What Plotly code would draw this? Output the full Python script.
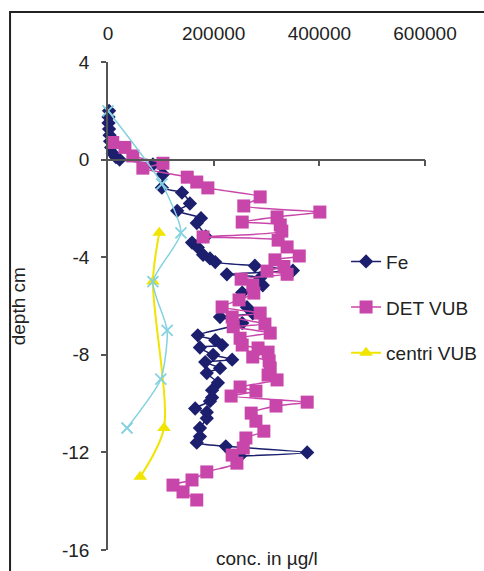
import plotly.graph_objects as go

# ---------------- data ----------------
fe_depth = [2.0, 1.75, 1.5, 1.25, 1.0, 0.75, 0.5, 0.25, 0.1, 0.0, -0.2, -0.6, -1.15, -1.35, -1.8,
            -2.1, -2.4, -2.6, -3.15, -3.4, -3.6, -3.9, -4.05, -4.2, -4.35, -4.55, -4.7, -4.85,
            -5.15, -5.45, -6.05, -6.3, -6.45, -6.7, -7.2, -7.4, -7.6, -7.7, -8.0, -8.2, -8.3,
            -8.55, -8.75, -9.15, -9.45, -9.75, -9.9, -10.2, -10.35, -10.6, -11.0, -11.35,
            -11.6, -11.75, -12.0, -12.15]
fe_conc = [2000, 1000, 1000, 2000, 3000, 4000, 6000, 9000, 15000, 22000, 85000, 104000, 102000,
           140000, 155000, 131000, 176000, 168000, 185000, 159000, 170000, 180000, 193000,
           203000, 278000, 350000, 225000, 288000, 293000, 254000, 263000, 274000, 212000,
           254000, 170000, 203000, 216000, 174000, 199000, 235000, 184000, 212000, 187000,
           208000, 197000, 197000, 193000, 165000, 187000, 187000, 174000, 174000, 168000,
           223000, 377000, 250000]

det_depth = [0.7, 0.5, 0.15, -0.15, -0.35, -0.72, -0.92, -1.16, -1.53, -1.9, -2.15, -2.35,
             -2.56, -2.68, -2.93, -3.17, -3.3, -3.58, -3.95, -4.11, -4.38, -4.57, -4.7, -4.9,
             -5.14, -5.47, -5.75, -6.04, -6.29, -6.45, -6.74, -6.85, -7.11, -7.32, -7.6,
             -7.72, -7.89, -8.09, -8.25, -8.54, -8.83, -9.03, -9.32, -9.49, -9.69, -9.94,
             -10.1, -10.39, -10.72, -11.13, -11.41, -11.82, -12.11, -12.44, -12.8, -13.13,
             -13.34, -13.62, -13.95]
det_conc = [9000, 32000, 47000, 104000, 66000, 150000, 168000, 189000, 288000, 257000, 401000,
            320000, 254000, 326000, 329000, 180000, 322000, 339000, 362000, 316000, 333000,
            301000, 339000, 252000, 274000, 276000, 248000, 216000, 288000, 235000, 297000,
            237000, 307000, 250000, 254000, 284000, 303000, 274000, 305000, 307000, 303000,
            320000, 250000, 280000, 233000, 377000, 318000, 271000, 280000, 295000, 261000,
            256000, 235000, 244000, 187000, 159000, 123000, 142000, 168000]

centri_depth = [-3, -5, -11, -13]
centri_conc = [97000, 85000, 106000, 61000]

cross_depth = [2, -1, -3, -5, -7, -9, -11]
cross_conc = [0, 102000, 138000, 85000, 112000, 100000, 36000]

x_ticks = [0, 200000, 400000, 600000]
x_ticktext = ["0", "200000", "400000", "600000"]
y_ticks = [4, 0, -4, -8, -12, -16]
y_ticktext = ["4", "0", "-4", "-8", "-12", "-16"]

FONT = "Liberation Sans, Arial, sans-serif"
FS = 19
AXC = "#555555"
TXT = "#222222"

fig = go.Figure()

fig.add_trace(go.Scatter(
    x=fe_conc, y=fe_depth, name="Fe", mode="lines+markers", legendgroup="a",
    line=dict(color="#1c1f6e", width=1.5, shape="spline", smoothing=0.6),
    marker=dict(symbol="diamond", size=11, color="#1c1f6e"), cliponaxis=False))
fig.add_trace(go.Scatter(
    x=det_conc, y=det_depth, name="DET VUB", mode="lines+markers", legendgroup="b",
    line=dict(color="#c846aa", width=1.5, shape="spline", smoothing=0.6),
    marker=dict(symbol="square", size=13, color="#c846aa"), cliponaxis=False))
fig.add_trace(go.Scatter(
    x=centri_conc, y=centri_depth, name="centri VUB", mode="lines+markers", legendgroup="c",
    line=dict(color="#f0e400", width=2, shape="spline", smoothing=0.8),
    marker=dict(symbol="triangle-up", size=12, color="#f0e400"), cliponaxis=False))
fig.add_trace(go.Scatter(
    x=cross_conc, y=cross_depth, name="VUB", mode="lines+markers", showlegend=False,
    xaxis="x2",
    line=dict(color="#84d2e0", width=1.5, shape="spline", smoothing=0.6),
    marker=dict(symbol="x-thin", size=11, line=dict(color="#84d2e0", width=1.8)),
    cliponaxis=False))

fig.update_layout(
    width=484, height=571,
    margin=dict(l=108, r=59, t=62, b=21, autoexpand=False),
    paper_bgcolor="white", plot_bgcolor="white",
    font=dict(family=FONT, size=FS, color=TXT),
    xaxis=dict(range=[0, 600000], side="top", tickmode="array", tickvals=x_ticks,
               ticktext=x_ticktext, showline=False, showgrid=False, zeroline=False,
               ticks="outside", ticklen=13, tickcolor="rgba(0,0,0,0)",
               tickfont=dict(size=FS, family=FONT, color=TXT)),
    xaxis2=dict(range=[0, 600000], overlaying="x", anchor="free", position=0.8,
                side="bottom", showline=True, linecolor=AXC, linewidth=1.5,
                ticks="outside", ticklen=6, tickwidth=1.5, tickcolor=AXC,
                tickmode="array", tickvals=x_ticks[1:], showticklabels=False,
                showgrid=False, zeroline=False),
    yaxis=dict(range=[-16, 4], tickmode="array", tickvals=y_ticks, ticktext=y_ticktext,
               showline=True, linecolor=AXC, linewidth=1.5, ticks="outside", ticklen=5,
               tickwidth=1.5, tickcolor=AXC, showgrid=False, zeroline=False,
               ticklabelstandoff=8,
               tickfont=dict(size=FS, family=FONT, color=TXT)),
    legend=dict(x=0.751, xanchor="left", y=0.63, yanchor="top",
                font=dict(size=FS, family=FONT, color=TXT),
                bgcolor="rgba(0,0,0,0)", tracegroupgap=18),
    showlegend=True,
)

fig.add_annotation(text="conc. in µg/l", xref="paper", yref="paper", x=0.5, y=-0.018,
                   showarrow=False, xanchor="center", yanchor="middle",
                   font=dict(size=FS, family=FONT, color=TXT))
fig.add_annotation(text="depth cm", xref="paper", yref="paper", x=-0.283, y=0.5,
                   textangle=-90, showarrow=False, xanchor="center", yanchor="middle",
                   font=dict(size=FS, family=FONT, color=TXT))

# outer chart frame (top and left edges visible in the crop)
fig.add_shape(type="rect", xref="paper", yref="paper", x0=-0.309, y0=-0.5, x1=1.5, y1=1.1025,
              line=dict(color="#222222", width=2), fillcolor="rgba(0,0,0,0)")

fig.write_html("out.html")
